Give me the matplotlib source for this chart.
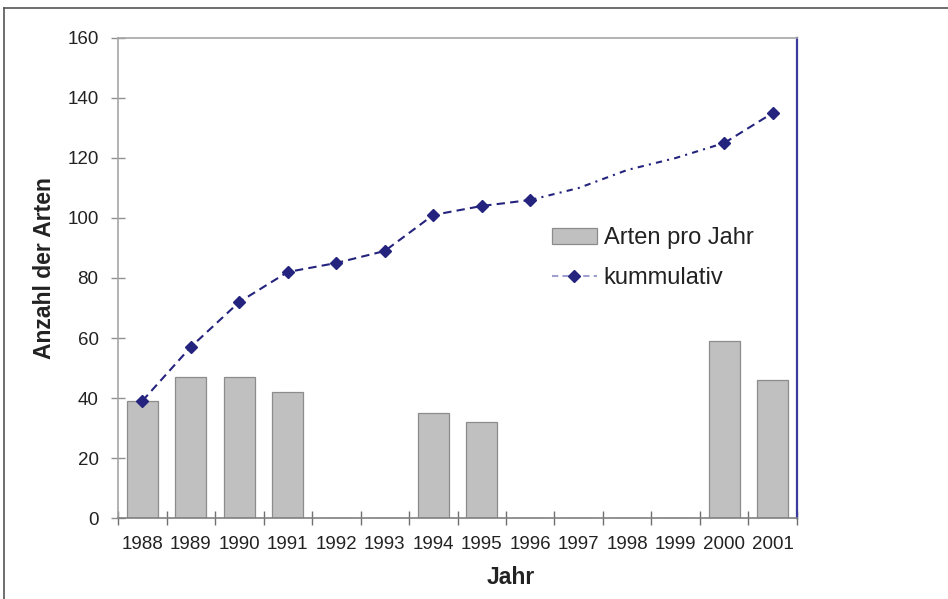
import numpy as np
import matplotlib
matplotlib.use("Agg")
import matplotlib.pyplot as plt
from matplotlib.lines import Line2D

# Data
jahre = ["1988", "1989", "1990", "1991", "1992", "1993", "1994",
         "1995", "1996", "1997", "1998", "1999", "2000", "2001"]
arten_pro_jahr = [39, 47, 47, 42, 0, 0, 35, 32, 0, 0, 0, 0, 59, 46]
kummulativ = [39, 57, 72, 82, 85, 89, 101, 104, 106, 110, 116, 120, 125, 135]
# years that carry a marker (1997-1999 are only bridged by the line)
mit_marker = [True, True, True, True, True, True, True, True, True,
              False, False, False, True, True]

plt.rcParams['font.family'] = ['Liberation Sans', 'DejaVu Sans']

navy = '#24247e'
grau = '#a6a6a6'
text_col = '#222222'

fig = plt.figure(figsize=(9.48, 5.99), dpi=100)
ax = fig.add_axes([0.1245, 0.1352, 0.7162, 0.8014])

x = np.arange(len(jahre))

# bars
ax.bar(x, arten_pro_jahr, width=0.63, color='#c0c0c0', edgecolor='#8c8c8c',
       linewidth=0.9, zorder=2, label='Arten pro Jahr')

# cumulative line: dashed where measured, dotted across the gap
idx = [i for i, m in enumerate(mit_marker) if m]
luecke_start = 8
luecke_ende = 12
xk = np.array(x)
yk = np.array(kummulativ, dtype=float)
ax.plot(xk[:luecke_start + 1], yk[:luecke_start + 1], color=navy, lw=1.5,
        linestyle=(0, (4, 2.5)), zorder=3)
ax.plot(xk[luecke_start:luecke_ende + 1], yk[luecke_start:luecke_ende + 1],
        color=navy, lw=1.5, linestyle=(0, (3, 2.5, 1, 2.5)), zorder=3)
ax.plot(xk[luecke_ende:], yk[luecke_ende:], color=navy, lw=1.5,
        linestyle=(0, (4, 2.5)), zorder=3)
ax.plot(xk[idx], yk[idx], linestyle='none', marker='D', markersize=6.3,
        color=navy, zorder=4)

# axes limits and ticks
ax.set_xlim(-0.5, len(jahre) - 0.5)
ax.set_ylim(0, 160)
ax.set_yticks(np.arange(0, 161, 20))
ax.set_xticks(np.arange(-0.5, len(jahre), 1))
ax.set_xticklabels([])
ax.set_xticks(x, minor=True)
ax.set_xticklabels(jahre, minor=True)
ax.tick_params(axis='x', which='major', direction='inout', length=10,
               width=1, color='#707070')
ax.tick_params(axis='x', which='minor', length=0, pad=13, labelsize=13.5,
               labelcolor=text_col)
ax.tick_params(axis='y', direction='inout', length=10, width=1,
               color='#909090', pad=9, labelsize=13.5, labelcolor=text_col)

for s in ['left', 'top', 'bottom']:
    ax.spines[s].set_color(grau)
    ax.spines[s].set_linewidth(1.2)
ax.spines['bottom'].set_color('#808080')
ax.spines['right'].set_color('#3a3aa0')
ax.spines['right'].set_linewidth(1.6)

# axis titles
fig.text(45 / 948, 1 - 268 / 599, 'Anzahl der Arten', rotation=90,
         ha='center', va='center', fontsize=16.5, fontweight='bold',
         color=text_col)
fig.text(511 / 948, 1 - 578 / 599, 'Jahr', ha='center', va='center',
         fontsize=16.5, fontweight='bold', color=text_col)

# legend
handles = [plt.Rectangle((0, 0), 1, 1, facecolor='#c0c0c0',
                         edgecolor='#8c8c8c', linewidth=0.9),
           Line2D([], [], color='#a0a0d0', lw=1.5, linestyle=(0, (3, 2)),
                  marker='D', markersize=6.3, markerfacecolor=navy,
                  markeredgecolor=navy)]
ax.legend(handles, ['Arten pro Jahr', 'kummulativ'], frameon=False,
          fontsize=17, loc='upper left', bbox_to_anchor=(0.625, 0.625),
          handlelength=1.9, handletextpad=0.3, labelspacing=0.75,
          borderaxespad=0, labelcolor=text_col)

# outer frame of the original figure
fig.add_artist(Line2D([4 / 948, 4 / 948], [0, 1 - 8 / 599], color='#555555',
                      lw=1.2, transform=fig.transFigure))
fig.add_artist(Line2D([4 / 948, 1], [1 - 8 / 599, 1 - 8 / 599],
                      color='#555555', lw=1.2, transform=fig.transFigure))

fig.savefig('out.png', dpi=100)
